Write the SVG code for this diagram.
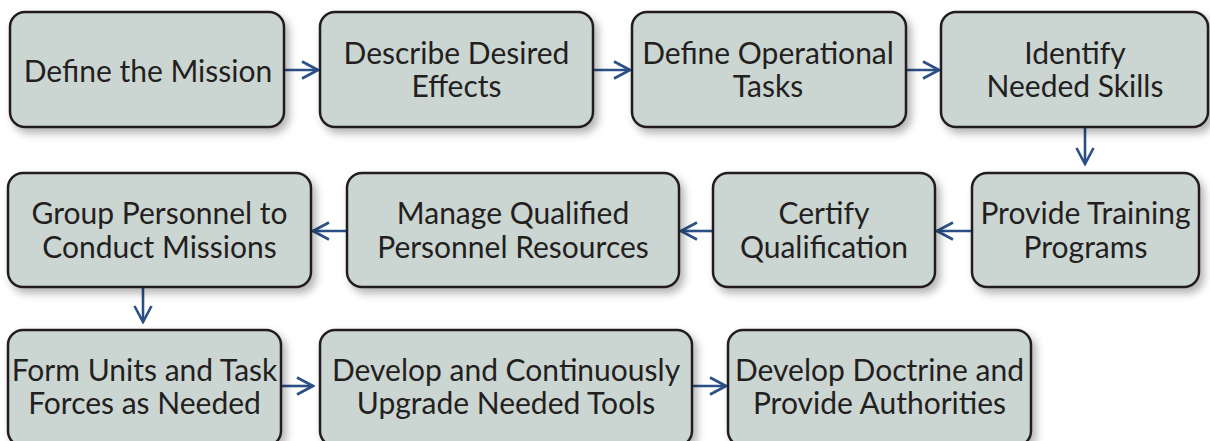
<svg xmlns="http://www.w3.org/2000/svg" width="1210" height="441" viewBox="0 0 1210 441">
<defs>
<filter id="sh" x="-10%" y="-10%" width="125%" height="130%">
<feDropShadow dx="4" dy="5" stdDeviation="4" flood-color="#000" flood-opacity="0.3"/>
</filter>
<marker id="ah" viewBox="-18 -10 20 20" refX="0" refY="0" markerWidth="20" markerHeight="20" markerUnits="userSpaceOnUse" orient="auto">
<path d="M-16,-8.5 L0,0 L-16,8.5" fill="none" stroke="#2b4f87" stroke-width="2.6"/>
</marker>
</defs>
<style>
.box{fill:#cbd5d2;stroke:#231f20;stroke-width:2.5;filter:url(#sh)}
.t{font-family:Lato,"Open Sans",sans-serif;font-size:30px;fill:#231f20;text-anchor:middle}
.c{fill:none;stroke:#2b4f87;stroke-width:2.6;marker-end:url(#ah)}
</style>
<rect width="1210" height="441" fill="#fff"/>
<g id="connectors">
<path class="c" d="M284,70 H318"/>
<path class="c" d="M593,70 H630"/>
<path class="c" d="M906,70 H939"/>
<path class="c" d="M1085,128 V164"/>
<path class="c" d="M972,231 H937"/>
<path class="c" d="M713,231 H681"/>
<path class="c" d="M347,231 H313"/>
<path class="c" d="M143,288 V322"/>
<path class="c" d="M281,386 H313"/>
<path class="c" d="M692,386 H726"/>
</g>
<g id="n1"><rect class="box" x="10" y="12" width="274" height="115" rx="15"/><text class="t" x="148" y="82">Define the Mission</text></g>
<g id="n2"><rect class="box" x="320" y="12" width="273" height="115" rx="15"/><text class="t" x="456.5" y="64">Describe Desired</text><text class="t" x="456.5" y="97">Effects</text></g>
<g id="n3"><rect class="box" x="632" y="12" width="274" height="115" rx="15"/><text class="t" x="768" y="64">Define Operational</text><text class="t" x="768" y="97">Tasks</text></g>
<g id="n4"><rect class="box" x="941" y="12" width="267" height="115" rx="15"/><text class="t" x="1075" y="64">Identify</text><text class="t" x="1075" y="97">Needed Skills</text></g>
<g id="n5"><rect class="box" x="972" y="173" width="227" height="114" rx="15"/><text class="t" x="1085.5" y="224">Provide Training</text><text class="t" x="1085.5" y="258">Programs</text></g>
<g id="n6"><rect class="box" x="713" y="173" width="222" height="114" rx="15"/><text class="t" x="824" y="224">Certify</text><text class="t" x="824" y="258">Qualification</text></g>
<g id="n7"><rect class="box" x="347" y="173" width="332" height="114" rx="15"/><text class="t" x="513" y="224">Manage Qualified</text><text class="t" x="513" y="258">Personnel Resources</text></g>
<g id="n8"><rect class="box" x="8" y="173" width="303" height="114" rx="15"/><text class="t" x="159.5" y="224">Group Personnel to</text><text class="t" x="159.5" y="258">Conduct Missions</text></g>
<g id="n9"><rect class="box" x="8" y="330" width="273" height="116" rx="15"/><text class="t" x="144.5" y="381">Form Units and Task</text><text class="t" x="144.5" y="414">Forces as Needed</text></g>
<g id="n10"><rect class="box" x="320" y="330" width="372" height="116" rx="15"/><text class="t" x="506" y="381">Develop and Continuously</text><text class="t" x="506" y="414">Upgrade Needed Tools</text></g>
<g id="n11"><rect class="box" x="728" y="330" width="303" height="116" rx="15"/><text class="t" x="879.5" y="381">Develop Doctrine and</text><text class="t" x="879.5" y="414">Provide Authorities</text></g>
</svg>
